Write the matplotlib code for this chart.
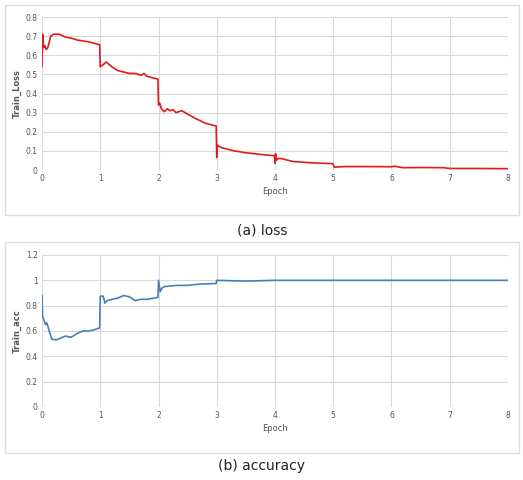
import matplotlib
matplotlib.use("Agg")
import matplotlib.pyplot as plt
from matplotlib.patches import Rectangle

loss_x = [0,0.01,0.03,0.05,0.07,0.1,0.15,0.2,0.3,0.4,0.5,0.6,0.8,0.99,1.0,1.02,1.05,1.1,1.2,1.3,1.5,
          1.6,1.7,1.75,1.8,1.99,2.0,2.02,2.05,2.1,2.15,2.2,2.25,2.3,2.35,2.4,2.6,2.8,2.99,3.0,3.01,
          3.03,3.1,3.3,3.5,3.8,3.99,4.0,4.01,4.02,4.05,4.1,4.3,4.6,4.99,5.02,5.2,5.5,6.0,6.05,6.2,
          6.5,6.9,7.0,7.5,8.0]
loss_y = [0.54,0.71,0.64,0.65,0.63,0.64,0.70,0.71,0.71,0.695,0.69,0.68,0.67,0.655,0.54,0.545,
          0.55,0.565,0.54,0.52,0.505,0.505,0.495,0.505,0.49,0.475,0.34,0.35,0.32,0.305,0.32,
          0.31,0.315,0.30,0.305,0.31,0.275,0.245,0.23,0.065,0.13,0.125,0.115,0.10,0.09,0.08,
          0.075,0.035,0.085,0.05,0.06,0.06,0.045,0.038,0.033,0.015,0.018,0.018,0.017,0.02,0.012,
          0.013,0.012,0.008,0.008,0.007]
acc_x = [0,0.01,0.03,0.06,0.08,0.1,0.13,0.17,0.25,0.3,0.4,0.5,0.6,0.7,0.8,0.9,0.99,1.0,1.05,1.08,
         1.12,1.2,1.3,1.4,1.5,1.6,1.7,1.8,1.99,2.0,2.03,2.06,2.1,2.3,2.5,2.7,2.99,3.0,3.4,3.6,4.0,8.0]
acc_y = [0.88,0.72,0.69,0.65,0.665,0.64,0.59,0.535,0.53,0.54,0.56,0.55,0.58,0.60,0.60,0.61,
         0.625,0.875,0.875,0.82,0.84,0.85,0.86,0.88,0.87,0.84,0.85,0.85,0.865,1.0,0.91,
         0.94,0.95,0.96,0.96,0.97,0.975,1.0,0.995,0.995,1.0,1.0]

fig = plt.figure(figsize=(5.23, 4.8), dpi=100)
fig.patches.append(Rectangle((5/523, 1-215/480), 514/523, 210/480, transform=fig.transFigure,
                             fill=False, ec="#dddddd", lw=1))
fig.patches.append(Rectangle((5/523, 1-453/480), 514/523, 211/480, transform=fig.transFigure,
                             fill=False, ec="#dddddd", lw=1))

def setup(ax, ylim, yticks, ylabel):
    ax.set_xlim(0, 8)
    ax.set_ylim(*ylim)
    ax.set_xticks(range(9))
    ax.set_yticks(yticks)
    ax.set_yticklabels([("%g" % t) for t in yticks])
    ax.grid(True, color="#d9d9d9", lw=0.8)
    ax.set_axisbelow(True)
    for s in ax.spines.values():
        s.set_visible(False)
    ax.tick_params(length=0, labelsize=5.5, colors="#555555", pad=3)
    ax.set_xlabel("Epoch", fontsize=6, color="#555555", labelpad=3)
    ax.set_ylabel(ylabel, fontsize=6, color="#555555", fontweight="bold", labelpad=3)

ax1 = fig.add_axes([42/523, 1-170/480, 466/523, 153/480])
ax1.plot(loss_x, loss_y, color="#e31a1c", lw=1.2)
setup(ax1, (0, 0.8), [0,0.1,0.2,0.3,0.4,0.5,0.6,0.7,0.8], "Train_Loss")

ax2 = fig.add_axes([42/523, 1-407/480, 466/523, 152/480])
ax2.plot(acc_x, acc_y, color="#4a7ebb", lw=1.2)
setup(ax2, (0, 1.2), [0,0.2,0.4,0.6,0.8,1,1.2], "Train_acc")

fig.text(262/523, 1-230/480, "(a) loss", ha="center", va="center", fontsize=10, color="#222222")
fig.text(262/523, 1-466/480, "(b) accuracy", ha="center", va="center", fontsize=10, color="#222222")

fig.savefig("out.png", dpi=100)
